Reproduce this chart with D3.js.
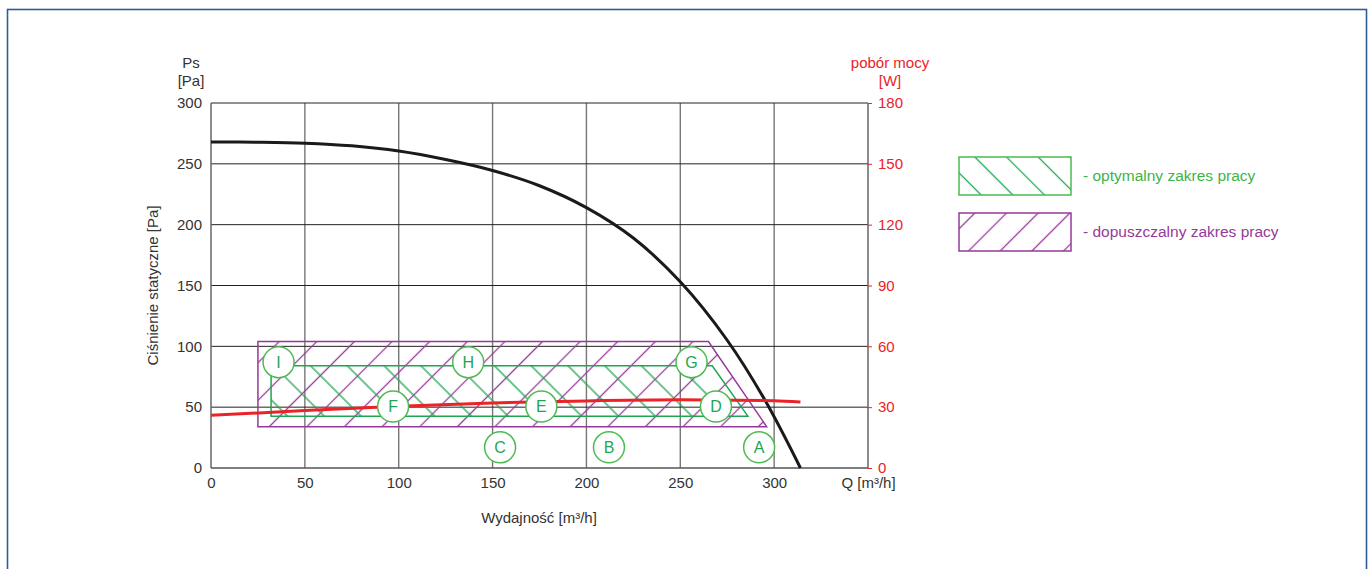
<!DOCTYPE html>
<html>
<head>
<meta charset="utf-8">
<script src="https://cdn.jsdelivr.net/npm/d3@7"></script>
<style>
  body { margin: 0; background: #fff; }
  svg text { font-family: "Liberation Sans", Arial, sans-serif; }
</style>
</head>
<body>
<svg id="chart" width="1370" height="569"></svg>
<script>
// chart data
const fanQ  = [0, 25, 50, 75, 100, 125, 150, 175, 200, 225, 250, 275, 295, 314];
const fanPs = [268, 267.8, 267, 264.8, 260.5, 253.5, 244.5, 232, 214, 189, 153, 105, 56, 0];

const powerQ = [0, 50, 100, 150, 200, 250, 300, 314];
const powerW = [26, 28.3, 30.4, 32.1, 33.1, 33.6, 33.2, 32.6];

// allowed / optimal working areas (Q, Ps)
const allowedQ  = [25, 265, 296, 25];
const allowedPs = [104, 104, 34, 34];
const optimalQ  = [32, 267, 286, 32];
const optimalPs = [84, 84, 42.6, 42.6];

const pointNames = ["A", "B", "C", "D", "E", "F", "G", "H", "I"];
const pointQ  = [292, 212, 154, 269, 176, 97, 256, 137, 36];
const pointPs = [17, 17, 17, 50.5, 50.5, 50.5, 87, 87, 87];

const xTicks = [0, 50, 100, 150, 200, 250, 300, 350];
const yTicks = [0, 50, 100, 150, 200, 250, 300];
const wTicks = [0, 30, 60, 90, 120, 150, 180];

const legendNames = ["- optymalny zakres pracy", "- dopuszczalny zakres pracy"];

// layout
const plot = {left: 211, right: 868, top: 103, bottom: 468};
const red = "#ec2227", green = "#1fa552", purple = "#953a98", text = "#333";

const svg = d3.select("#chart");

// blue frame round the page
svg.append("rect")
  .attr("x", 7.5).attr("y", 9.5)
  .attr("width", 1359).attr("height", 620)
  .attr("fill", "none").attr("stroke", "#2d5f96").attr("stroke-width", 1.6);

const x = d3.scaleLinear().domain([0, 350]).range([plot.left, plot.right]);
const y = d3.scaleLinear().domain([0, 300]).range([plot.bottom, plot.top]);
const yW = d3.scaleLinear().domain([0, 180]).range([plot.bottom, plot.top]);

// hatch patterns
const defs = svg.append("defs");
function hatch(id, color, angle, step) {
  defs.append("pattern")
    .attr("id", id)
    .attr("patternUnits", "userSpaceOnUse")
    .attr("width", step).attr("height", step)
    .attr("patternTransform", `rotate(${angle})`)
    .append("line")
      .attr("x1", step / 2).attr("y1", 0)
      .attr("x2", step / 2).attr("y2", step)
      .attr("stroke", color).attr("stroke-width", 1.3);
}
hatch("hatchPurple", purple, 45, 26.6);
hatch("hatchGreen", green, -45, 26);
hatch("legPurple", purple, 45, 22.4);
hatch("legGreen", green, -45, 22.4);

// grid
svg.append("g").selectAll("line")
  .data(xTicks.slice(1, -1))
  .join("line")
    .attr("x1", d => x(d)).attr("x2", d => x(d))
    .attr("y1", plot.top).attr("y2", plot.bottom)
    .attr("stroke", "#777").attr("stroke-width", 1.4);
svg.append("g").selectAll("line")
  .data(yTicks.slice(1))
  .join("line")
    .attr("x1", plot.left).attr("x2", plot.right)
    .attr("y1", d => y(d)).attr("y2", d => y(d))
    .attr("stroke", "#222").attr("stroke-width", 1);

// side and bottom axes lines
svg.append("line").attr("x1", plot.left).attr("x2", plot.left)
  .attr("y1", plot.top).attr("y2", plot.bottom).attr("stroke", "#666").attr("stroke-width", 1.5);
svg.append("line").attr("x1", plot.right).attr("x2", plot.right)
  .attr("y1", plot.top).attr("y2", plot.bottom).attr("stroke", "#666").attr("stroke-width", 1.5);
svg.append("line").attr("x1", plot.left).attr("x2", plot.right)
  .attr("y1", plot.bottom).attr("y2", plot.bottom).attr("stroke", "#555").attr("stroke-width", 1.5);

// working areas
const area = (qs, ps) => qs.map((q, i) => [x(q), y(ps[i])]);
const poly = d3.line().curve(d3.curveLinearClosed);

svg.append("path")
  .attr("d", poly(area(allowedQ, allowedPs)))
  .attr("fill", "url(#hatchPurple)")
  .attr("stroke", purple).attr("stroke-width", 1.5);
svg.append("path")
  .attr("d", poly(area(optimalQ, optimalPs)))
  .attr("fill", "url(#hatchGreen)")
  .attr("stroke", green).attr("stroke-width", 1.5);

// fan curve
svg.append("path")
  .datum(fanQ.map((q, i) => [q, fanPs[i]]))
  .attr("fill", "none")
  .attr("stroke", "#1a1a1a").attr("stroke-width", 3)
  .attr("d", d3.line().x(d => x(d[0])).y(d => y(d[1])).curve(d3.curveCatmullRom));

// power curve
svg.append("path")
  .datum(powerQ.map((q, i) => [q, powerW[i]]))
  .attr("fill", "none")
  .attr("stroke", red).attr("stroke-width", 3)
  .attr("d", d3.line().x(d => x(d[0])).y(d => yW(d[1])).curve(d3.curveMonotoneX));

// lettered points
const pts = svg.append("g").selectAll("g")
  .data(pointNames)
  .join("g")
    .attr("transform", (d, i) => `translate(${x(pointQ[i])},${y(pointPs[i])})`);
pts.append("circle").attr("r", 15.5)
  .attr("fill", "#fff").attr("stroke", "#4dbb52").attr("stroke-width", 1.5);
pts.append("text").text(d => d)
  .attr("text-anchor", "middle").attr("dy", "0.36em")
  .attr("font-size", 16).attr("fill", green);

// left axis labels
svg.append("g")
  .attr("transform", `translate(${plot.left - 9},0)`)
  .call(d3.axisLeft(y).tickValues(yTicks).tickSize(0).tickPadding(0))
  .call(g => g.select(".domain").remove())
  .call(g => g.selectAll("text").attr("font-size", 15).attr("fill", text)
    .attr("font-family", "Liberation Sans, Arial, sans-serif"));

// right axis (power)
svg.append("g")
  .attr("transform", `translate(${plot.right},0)`)
  .call(d3.axisRight(yW).tickValues(wTicks).tickSize(4).tickPadding(6))
  .call(g => g.select(".domain").remove())
  .call(g => g.selectAll("line").attr("stroke", red))
  .call(g => g.selectAll("text").attr("font-size", 15).attr("fill", red)
    .attr("font-family", "Liberation Sans, Arial, sans-serif"));

// bottom axis
svg.append("g")
  .attr("transform", `translate(0,${plot.bottom + 9})`)
  .call(d3.axisBottom(x).tickValues(xTicks).tickSize(0).tickPadding(0)
    .tickFormat(d => d === 350 ? "Q [m³/h]" : d))
  .call(g => g.select(".domain").remove())
  .call(g => g.selectAll("text").attr("font-size", 15).attr("fill", text)
    .attr("font-family", "Liberation Sans, Arial, sans-serif"));

// axis titles
const title = (tx, ty, str, color) => svg.append("text")
  .attr("x", tx).attr("y", ty).attr("text-anchor", "middle")
  .attr("font-size", 15).attr("fill", color).text(str);
title(191, 68, "Ps", text);
title(191, 86, "[Pa]", text);
title(890, 68, "pobór mocy", red);
title(890, 86, "[W]", red);
title(539, 523, "Wydajność [m³/h]", text);
svg.append("text")
  .attr("transform", `translate(158,${(plot.top + plot.bottom) / 2}) rotate(-90)`)
  .attr("text-anchor", "middle").attr("font-size", 15).attr("fill", text)
  .text("Ciśnienie statyczne [Pa]");

// legend
const legend = svg.append("g").attr("transform", "translate(959,157)");
const legFill = ["url(#legGreen)", "url(#legPurple)"];
const legStroke = ["#4dbb52", purple];
const legText = ["#3cb44a", purple];
const leg = legend.selectAll("g")
  .data(legendNames)
  .join("g")
    .attr("transform", (d, i) => `translate(0,${i * 56})`);
leg.append("rect")
  .attr("width", 112).attr("height", 38)
  .attr("fill", (d, i) => legFill[i])
  .attr("stroke", (d, i) => legStroke[i]).attr("stroke-width", 1.5);
leg.append("text")
  .attr("x", 124).attr("y", 19).attr("dy", "0.35em")
  .attr("font-size", 15.5).attr("fill", (d, i) => legText[i])
  .text(d => d);
</script>
</body>
</html>
